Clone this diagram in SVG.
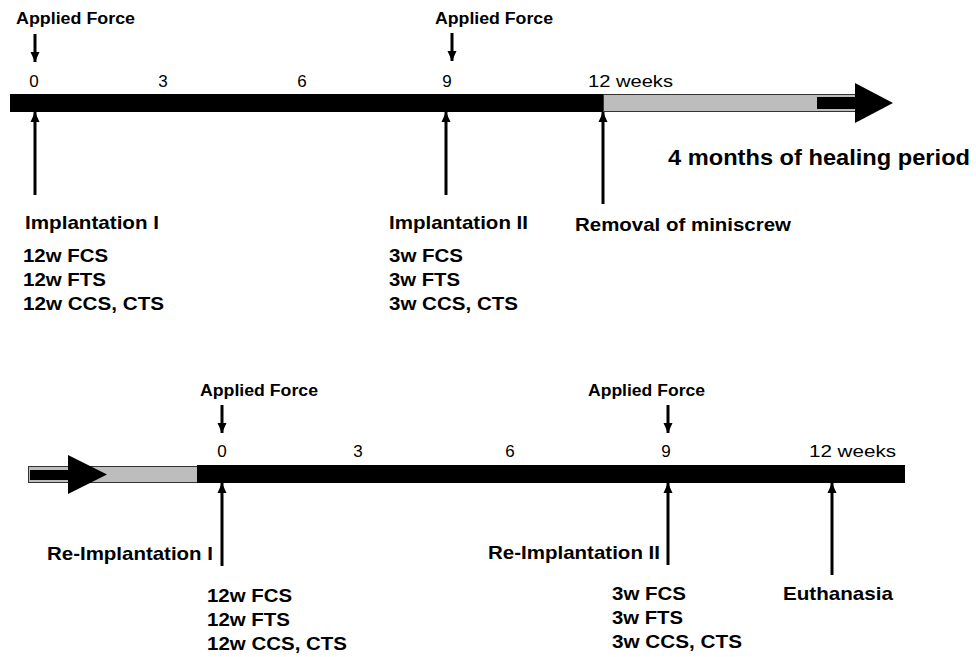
<svg xmlns="http://www.w3.org/2000/svg" width="976" height="657" viewBox="0 0 976 657">
<style>
.b{font-family:"Liberation Sans",Arial,sans-serif;font-weight:bold;fill:#000}
.r{font-family:"Liberation Sans",Arial,sans-serif;font-size:17px;fill:#000}
.af{font-size:16px}
.lb{font-size:19px}
.ls{font-size:18px}
.ar{stroke:#000;stroke-width:3;fill:none}
.grey{fill:#bdbdbd;stroke:#333;stroke-width:1}
</style>
<defs>
<marker id="ah" markerUnits="userSpaceOnUse" markerWidth="10" markerHeight="10" viewBox="0 0 10 10" refX="10" refY="5" orient="auto">
<path d="M0,0.5 L10,5 L0,9.5 Z" fill="#000"/>
</marker>
</defs>

<g id="timeline-top">
<rect x="10" y="94" width="593" height="18" fill="#000"/>
<rect class="grey" x="603.5" y="94.5" width="252" height="17"/>
<rect x="817" y="97" width="39" height="12" fill="#000"/>
<polygon points="855,83 893,103 855,123" fill="#000"/>
</g>

<g id="timeline-bottom">
<rect class="grey" x="28.5" y="466.5" width="169.5" height="16"/>
<rect x="30" y="470" width="40" height="10" fill="#000"/>
<polygon points="68,455 107,474.5 68,494" fill="#000"/>
<rect x="197" y="465" width="708" height="18" fill="#000"/>
</g>

<g id="connectors">
<line class="ar" x1="35" y1="34" x2="35" y2="62" marker-end="url(#ah)"/>
<line class="ar" x1="452" y1="33" x2="452" y2="61" marker-end="url(#ah)"/>
<line class="ar" x1="35" y1="195" x2="35" y2="112" marker-end="url(#ah)"/>
<line class="ar" x1="446" y1="195" x2="446" y2="112" marker-end="url(#ah)"/>
<line class="ar" x1="603" y1="204" x2="603" y2="112" marker-end="url(#ah)"/>
<line class="ar" x1="222" y1="405" x2="222" y2="433" marker-end="url(#ah)"/>
<line class="ar" x1="668" y1="405" x2="668" y2="433" marker-end="url(#ah)"/>
<line class="ar" x1="222" y1="566" x2="222" y2="483" marker-end="url(#ah)"/>
<line class="ar" x1="668" y1="565" x2="668" y2="483" marker-end="url(#ah)"/>
<line class="ar" x1="832" y1="575" x2="832" y2="483" marker-end="url(#ah)"/>
</g>

<g id="top-labels">
<text class="b af" x="16" y="24" textLength="119" lengthAdjust="spacingAndGlyphs">Applied Force</text>
<text class="b af" x="435" y="24" textLength="118" lengthAdjust="spacingAndGlyphs">Applied Force</text>
<text class="r" x="34" y="87" text-anchor="middle">0</text>
<text class="r" x="163" y="87" text-anchor="middle">3</text>
<text class="r" x="302" y="87" text-anchor="middle">6</text>
<text class="r" x="447" y="87" text-anchor="middle">9</text>
<text class="r" x="588" y="87" textLength="85" lengthAdjust="spacingAndGlyphs">12 weeks</text>
<text class="b" font-size="22" x="668" y="165" textLength="302" lengthAdjust="spacingAndGlyphs">4 months of healing period</text>
</g>

<g id="implantation-1">
<text class="b lb" x="25" y="229" textLength="134" lengthAdjust="spacingAndGlyphs">Implantation I</text>
<text class="b ls" x="23" y="262" textLength="85" lengthAdjust="spacingAndGlyphs">12w FCS</text>
<text class="b ls" x="23" y="286" textLength="83" lengthAdjust="spacingAndGlyphs">12w FTS</text>
<text class="b ls" x="23" y="310" textLength="141" lengthAdjust="spacingAndGlyphs">12w CCS, CTS</text>
</g>

<g id="implantation-2">
<text class="b lb" x="389" y="229" textLength="139" lengthAdjust="spacingAndGlyphs">Implantation II</text>
<text class="b ls" x="389" y="262" textLength="74" lengthAdjust="spacingAndGlyphs">3w FCS</text>
<text class="b ls" x="389" y="286" textLength="71" lengthAdjust="spacingAndGlyphs">3w FTS</text>
<text class="b ls" x="389" y="310" textLength="129" lengthAdjust="spacingAndGlyphs">3w CCS, CTS</text>
</g>

<g id="removal">
<text class="b lb" x="575" y="231" textLength="216" lengthAdjust="spacingAndGlyphs">Removal of miniscrew</text>
</g>

<g id="bottom-labels">
<text class="b af" x="200" y="396" textLength="118" lengthAdjust="spacingAndGlyphs">Applied Force</text>
<text class="b af" x="588" y="396" textLength="117" lengthAdjust="spacingAndGlyphs">Applied Force</text>
<text class="r" x="222" y="457" text-anchor="middle">0</text>
<text class="r" x="358" y="457" text-anchor="middle">3</text>
<text class="r" x="510" y="457" text-anchor="middle">6</text>
<text class="r" x="666" y="457" text-anchor="middle">9</text>
<text class="r" x="809" y="457" textLength="87" lengthAdjust="spacingAndGlyphs">12 weeks</text>
</g>

<g id="re-implantation-1">
<text class="b lb" x="47" y="560" textLength="166" lengthAdjust="spacingAndGlyphs">Re-Implantation I</text>
<text class="b ls" x="207" y="602" textLength="85" lengthAdjust="spacingAndGlyphs">12w FCS</text>
<text class="b ls" x="207" y="626" textLength="83" lengthAdjust="spacingAndGlyphs">12w FTS</text>
<text class="b ls" x="207" y="650" textLength="140" lengthAdjust="spacingAndGlyphs">12w CCS, CTS</text>
</g>

<g id="re-implantation-2">
<text class="b lb" x="488" y="559" textLength="172" lengthAdjust="spacingAndGlyphs">Re-Implantation II</text>
<text class="b ls" x="612" y="600" textLength="74" lengthAdjust="spacingAndGlyphs">3w FCS</text>
<text class="b ls" x="612" y="624" textLength="71" lengthAdjust="spacingAndGlyphs">3w FTS</text>
<text class="b ls" x="612" y="648" textLength="130" lengthAdjust="spacingAndGlyphs">3w CCS, CTS</text>
</g>

<g id="euthanasia">
<text class="b lb" x="783" y="600" textLength="110" lengthAdjust="spacingAndGlyphs">Euthanasia</text>
</g>
</svg>
